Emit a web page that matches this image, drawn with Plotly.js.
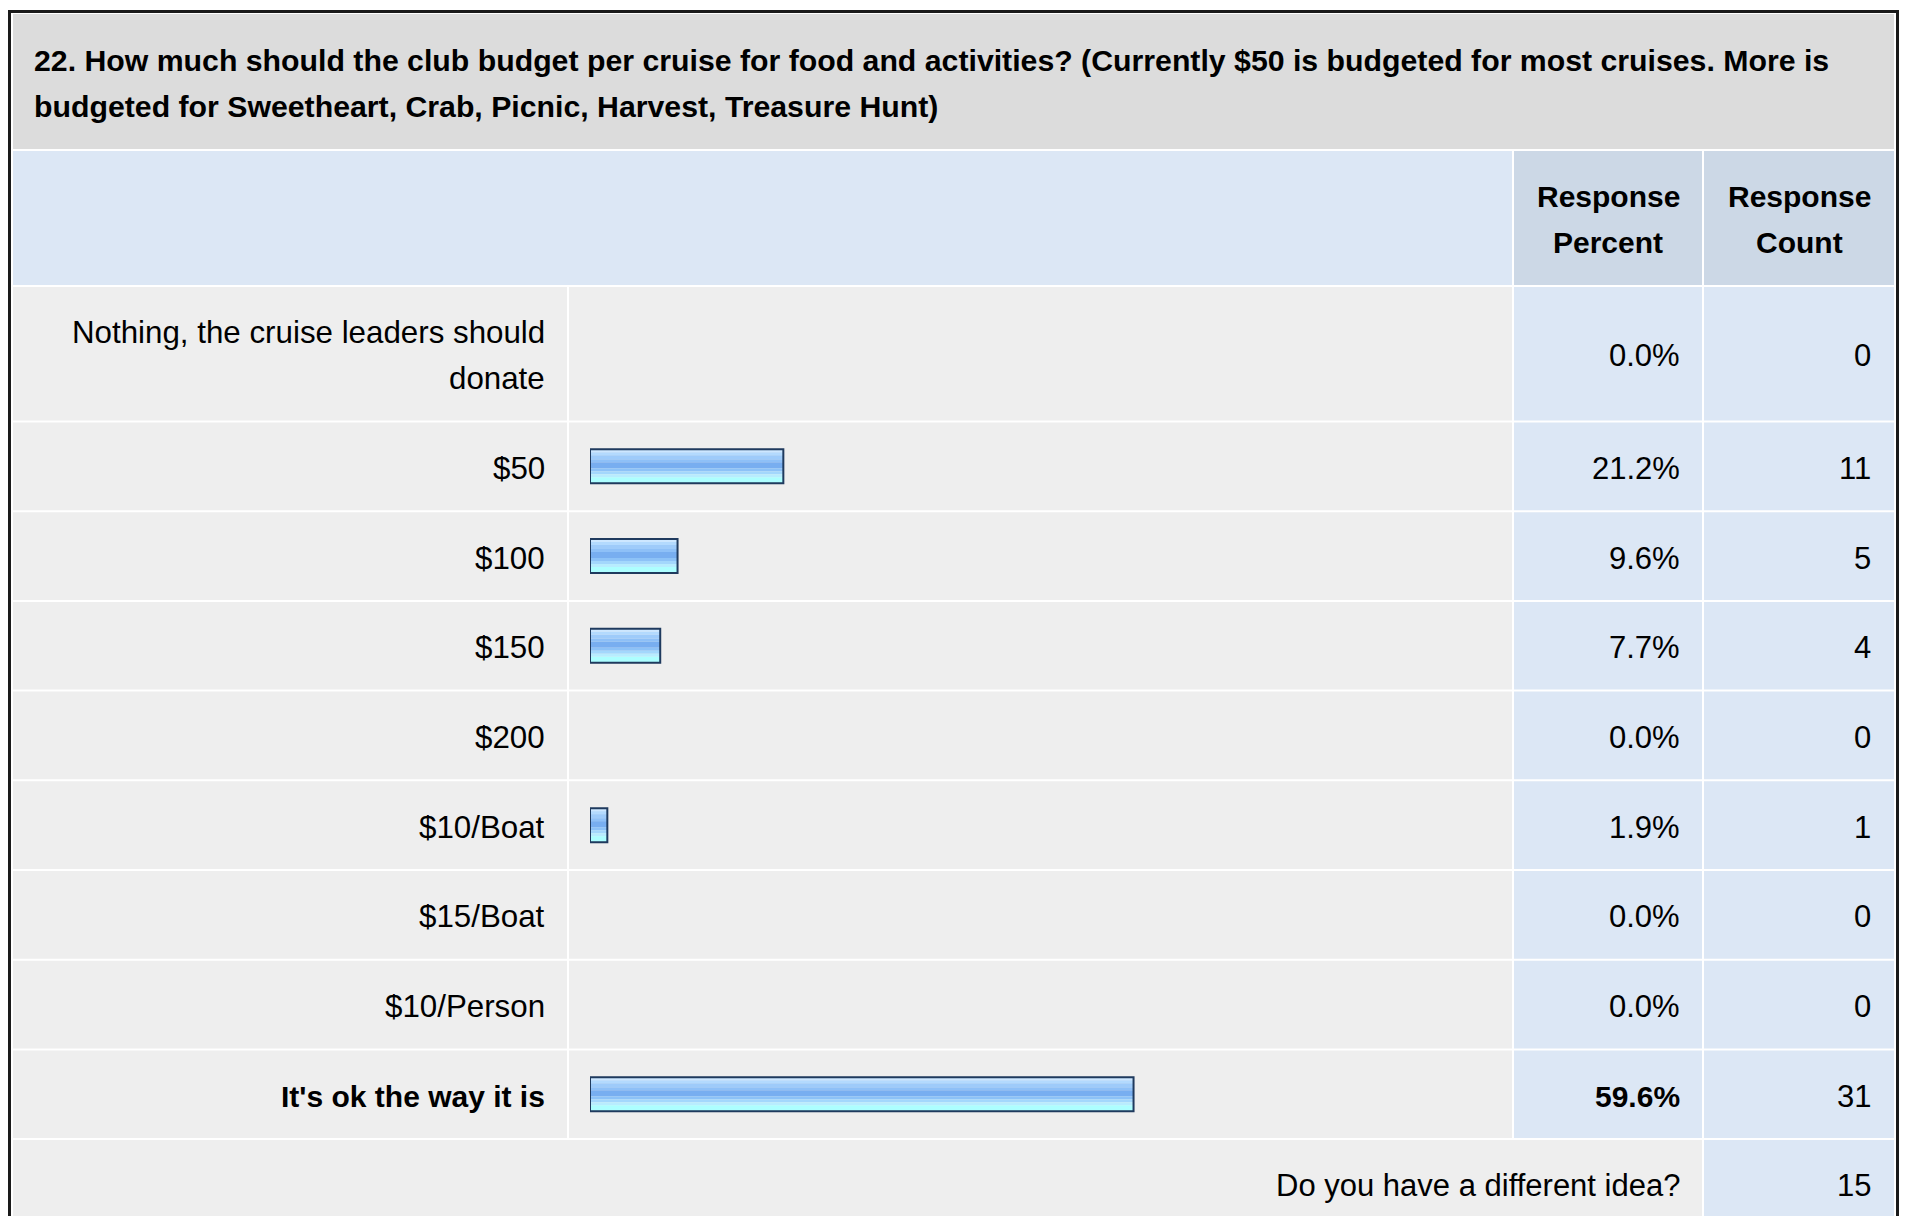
<!DOCTYPE html>
<html>
<head>
<meta charset="utf-8">
<script src="https://cdn.plot.ly/plotly-3.0.1.min.js"></script>
<style>
  html, body { margin: 0; padding: 0; background: #ffffff; }
  #chart { width: 1911px; height: 1216px; }
</style>
</head>
<body>
<div id="chart"></div>
<script>
// ---------------- DATA ----------------
const questionTitle = "22. How much should the club budget per cruise for food and activities? (Currently $50 is budgeted for most cruises. More is|budgeted for Sweetheart, Crab, Picnic, Harvest, Treasure Hunt)";
const headerLabels = ["Response|Percent", "Response|Count"];
const categories = [
  "Nothing, the cruise leaders should|donate",
  "$50",
  "$100",
  "$150",
  "$200",
  "$10/Boat",
  "$15/Boat",
  "$10/Person",
  "It's ok the way it is"
];
const responsePercent = [0.0, 21.2, 9.6, 7.7, 0.0, 1.9, 0.0, 0.0, 59.6];
const responseCount = [0, 11, 5, 4, 0, 1, 0, 0, 31];
const otherLabel = "Do you have a different idea?";
const otherCount = 15;

// ---------------- LAYOUT / STYLE ----------------
const W = 1911, H = 1216;
const FONT = "'Liberation Sans', Arial, Helvetica, sans-serif";
const cols = { labelL: 13, labelR: 567, barL: 569, barR: 1512, pctL: 1514, pctR: 1702, cntL: 1704, cntR: 1894 };
const titleTop = 14, titleBottom = 149;
const headTop = 151, headBottom = 285;
const firstRowTop = 287, firstRowH = 133.5, rowStep = 89.7, gap = 2;
const lineH = 46;
const pxPerPct = 9.12;
const barStart = 590;

const C = {
  title: '#dcdcdc', headLight: '#dce7f5', headDark: '#ccd8e6',
  cellGray: '#eeeeee', cellBlue: '#dce7f5', border: '#1a1a1a', text: '#000000',
  barLine: '#1f3a5e'
};

// row geometry
const rowTops = [], rowBots = [];
for (let i = 0; i < categories.length; i++) {
  const top = i === 0 ? firstRowTop : firstRowTop + firstRowH + gap + (i - 1) * rowStep;
  const bot = i === 0 ? firstRowTop + firstRowH : top + rowStep - gap;
  rowTops.push(top); rowBots.push(bot);
}
const otherTop = rowBots[rowBots.length - 1] + gap;
const rowCenters = rowTops.map((t, i) => (t + rowBots[i]) / 2);

const px = x => x / W;
const shapes = [];
function rect(x0, x1, y0, y1, color) {
  shapes.push({ type: 'rect', xref: 'paper', yref: 'y', x0: px(x0), x1: px(x1), y0: y0, y1: y1,
    fillcolor: color, line: { width: 0 }, layer: 'below' });
}
// title
rect(cols.labelL, cols.cntR, titleTop, titleBottom, C.title);
// header
rect(cols.labelL, cols.barR, headTop, headBottom, C.headLight);
rect(cols.pctL, cols.pctR, headTop, headBottom, C.headDark);
rect(cols.cntL, cols.cntR, headTop, headBottom, C.headDark);
// data rows
for (let i = 0; i < categories.length; i++) {
  rect(cols.labelL, cols.labelR, rowTops[i], rowBots[i], C.cellGray);
  rect(cols.barL, cols.barR, rowTops[i], rowBots[i], C.cellGray);
  rect(cols.pctL, cols.pctR, rowTops[i], rowBots[i], C.cellBlue);
  rect(cols.cntL, cols.cntR, rowTops[i], rowBots[i], C.cellBlue);
}
// other row
rect(cols.labelL, cols.pctR, otherTop, H + 40, C.cellGray);
rect(cols.cntL, cols.cntR, otherTop, H + 40, C.cellBlue);
// outer border
shapes.push({ type: 'rect', xref: 'paper', yref: 'y', x0: px(9.5), x1: px(1897.5), y0: 11.5, y1: H + 40,
  fillcolor: 'rgba(0,0,0,0)', line: { color: C.border, width: 3 }, layer: 'above' });

// ---------------- TEXT ----------------
const annotations = [];
function addText(text, x, yCenter, anchor, opts) {
  const lines = text.split('|');
  const n = lines.length;
  lines.forEach((ln, k) => {
    const y = yCenter + (k - (n - 1) / 2) * lineH;
    annotations.push({
      xref: 'paper', yref: 'y', x: px(x), y: y, xanchor: anchor, yanchor: 'middle',
      text: opts.bold ? '<b>' + ln + '</b>' : ln, showarrow: false, align: anchor,
      font: { family: FONT, size: opts.size, color: C.text }
    });
  });
}
addText(questionTitle, 32, (titleTop + titleBottom) / 2 + 2, 'left', { bold: true, size: 30.25 });
addText(headerLabels[0], (cols.pctL + cols.pctR) / 2, (headTop + headBottom) / 2 + 1, 'center', { bold: true, size: 30 });
addText(headerLabels[1], (cols.cntL + cols.cntR) / 2, (headTop + headBottom) / 2 + 1, 'center', { bold: true, size: 30 });

const maxPct = Math.max(...responsePercent);
categories.forEach((cat, i) => {
  const isMax = responsePercent[i] === maxPct;
  addText(cat, 547, rowCenters[i] + 2, 'right', { bold: isMax, size: isMax ? 30 : 31.3 });
  addText(responsePercent[i].toFixed(1) + '%', 1682, rowCenters[i] + 2, 'right', { bold: isMax, size: isMax ? 30 : 31 });
  addText(String(responseCount[i]), 1873, rowCenters[i] + 2, 'right', { bold: false, size: 31 });
});
const otherCenter = otherTop + (rowStep - gap) / 2;
addText(otherLabel, 1682, otherCenter + 2, 'right', { bold: false, size: 31 });
addText(String(otherCount), 1873, otherCenter + 2, 'right', { bold: false, size: 31 });

// ---------------- BARS ----------------
const barHalf = 17;
const stripes = [
  [-17, -14, '#cde7ff'],
  [-14, -11, '#b3dafe'],
  [-11, -7, '#9ecbfa'],
  [-7, -4, '#8ec0f7'],
  [-4, 2, '#78aef0'],
  [2, 5, '#8dc2f7'],
  [5, 8, '#a3d7fc'],
  [8, 11, '#b8ecfe'],
  [11, 17, '#adfeff']
];
const traces = stripes.map(s => ({
  type: 'bar', orientation: 'h', x: responsePercent, y: rowCenters,
  offset: s[0], width: s[1] - s[0],
  marker: { color: s[2], line: { width: 0 } },
  hoverinfo: 'skip', showlegend: false
}));
traces.push({
  type: 'bar', orientation: 'h', x: responsePercent, y: rowCenters,
  offset: -barHalf, width: 2 * barHalf,
  marker: { color: 'rgba(0,0,0,0)', line: { color: C.barLine, width: responsePercent.map(v => v > 0 ? 2 : 0) } },
  hoverinfo: 'skip', textposition: 'none', showlegend: false
});

const barDomainL = px(barStart), barDomainR = px(cols.barR);
const layout = {
  width: W, height: H,
  margin: { l: 0, r: 0, t: 0, b: 0, pad: 0 },
  paper_bgcolor: '#ffffff', plot_bgcolor: 'rgba(0,0,0,0)',
  barmode: 'overlay', showlegend: false, hovermode: false,
  xaxis: { domain: [barDomainL, barDomainR], range: [0, (cols.barR - barStart) / pxPerPct],
    visible: false, showgrid: false, zeroline: false, fixedrange: true },
  yaxis: { domain: [0, 1], range: [H, 0], visible: false, showgrid: false, zeroline: false, fixedrange: true },
  shapes: shapes,
  annotations: annotations
};
Plotly.newPlot('chart', traces, layout, { displayModeBar: false, staticPlot: true });
</script>
</body>
</html>
